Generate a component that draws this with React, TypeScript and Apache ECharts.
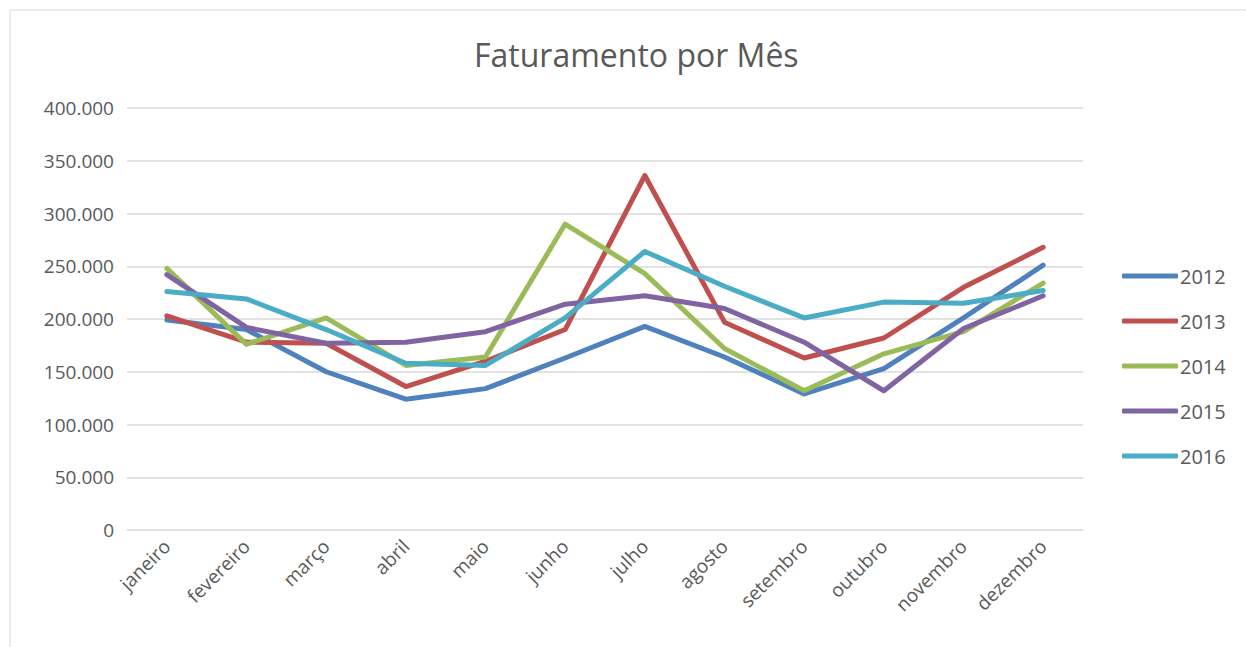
import React, { useEffect, useRef } from "react";
import * as echarts from "echarts";

const months = ["janeiro", "fevereiro", "março", "abril", "maio", "junho", "julho", "agosto", "setembro", "outubro", "novembro", "dezembro"];
const years = ["2012", "2013", "2014", "2015", "2016"];
const v2012 = [199000, 190000, 150000, 124000, 134000, 163000, 193000, 164000, 129000, 153000, 201000, 251000];
const v2013 = [203000, 178000, 177000, 136000, 160000, 190000, 336000, 197000, 163000, 182000, 230000, 268000];
const v2014 = [248000, 176000, 201000, 156000, 164000, 290000, 243000, 172000, 132000, 167000, 188000, 234000];
const v2015 = [242000, 192000, 177000, 178000, 188000, 214000, 222000, 210000, 178000, 132000, 191000, 222000];
const v2016 = [226000, 219000, 190000, 158000, 156000, 201000, 264000, 231000, 201000, 216000, 215000, 227000];
const seriesValues = [v2012, v2013, v2014, v2015, v2016];
const colors = ["#4F81BD", "#C0504D", "#9BBB59", "#8064A2", "#4BACC6"];

const fmt = (v: number) => (v === 0 ? "0" : v.toLocaleString("de-DE"));

export default function App() {
  const ref = useRef<HTMLDivElement>(null);
  useEffect(() => {
    if (!ref.current) return;
    const chart = echarts.init(ref.current, undefined, { renderer: "svg" });
    chart.setOption({
      animation: false,
      backgroundColor: "#ffffff",
      color: colors,
      textStyle: { fontFamily: "Open Sans" },
      title: {
        text: "Faturamento por Mês",
        left: 469,
        top: 33,
        textStyle: { fontSize: 32, fontWeight: "normal", color: "#595959", fontFamily: "Open Sans" },
      },
      graphic: [
        {
          type: "rect",
          shape: { x: 10, y: 10, width: 1260, height: 660 },
          style: { fill: "none", stroke: "#d9d9d9", lineWidth: 1 },
          silent: true,
        },
      ],
      legend: {
        orient: "vertical",
        left: 1122,
        top: 265,
        padding: 0,
        itemWidth: 56,
        itemHeight: 5,
        itemGap: 23,
        icon: "roundRect",
        textStyle: { fontSize: 20, color: "#595959", padding: [0, 0, 0, -3], lineHeight: 22 },
        data: years,
      },
      grid: { left: 127, right: 1246 - 1083, top: 108, bottom: 647 - 530, containLabel: false },
      xAxis: {
        type: "category",
        data: months,
        boundaryGap: true,
        axisLine: { show: false },
        axisTick: { show: false },
        axisLabel: { rotate: 45, fontSize: 19, color: "#595959", margin: 13, interval: 0 },
      },
      yAxis: {
        type: "value",
        min: 0,
        max: 400000,
        interval: 50000,
        axisLine: { show: false },
        axisTick: { show: false },
        axisLabel: { fontSize: 19, color: "#595959", margin: 13, formatter: fmt },
        splitLine: { lineStyle: { color: "#d9d9d9", width: 1.5 } },
      },
      series: years.map((y, i) => ({
        name: y,
        type: "line",
        data: seriesValues[i],
        symbol: "none",
        lineStyle: { width: 5, color: colors[i], cap: "round", join: "round" },
        itemStyle: { color: colors[i] },
      })),
    });
    return () => chart.dispose();
  }, []);
  return <div ref={ref} style={{ position: "fixed", left: 0, top: 0, width: 1246, height: 647 }} />;
}
